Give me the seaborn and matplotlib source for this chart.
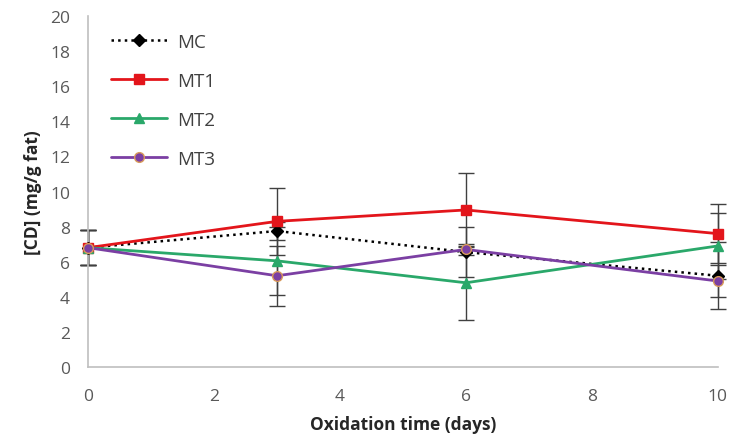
import matplotlib
matplotlib.use("Agg")
import matplotlib.pyplot as plt
import seaborn as sns
import pandas as pd
import numpy as np

days = [0, 3, 6, 10]
series_names = ["MC", "MT1", "MT2", "MT3"]
mc = [6.8, 7.75, 6.55, 5.2]
mt1 = [6.8, 8.3, 8.95, 7.6]
mt2 = [6.8, 6.05, 4.8, 6.9]
mt3 = [6.8, 5.2, 6.7, 4.9]
mc_err = [1.0, 0.5, 1.4, 1.9]
mt1_err = [1.0, 1.9, 2.1, 1.7]
mt2_err = [1.0, 1.95, 2.1, 1.9]
mt3_err = [1.0, 1.7, 0.3, 0.9]
y_ticks = [0, 2, 4, 6, 8, 10, 12, 14, 16, 18, 20]
x_ticks = [0, 2, 4, 6, 8, 10]

values = {"MC": mc, "MT1": mt1, "MT2": mt2, "MT3": mt3}
errors = {"MC": mc_err, "MT1": mt1_err, "MT2": mt2_err, "MT3": mt3_err}

rows = []
for name in series_names:
    for d, v, e in zip(days, values[name], errors[name]):
        rows.append({"day": d, "value": v, "err": e, "series": name})
df = pd.DataFrame(rows)

sns.set_theme(style="white")
plt.rcParams["font.family"] = ["Open Sans", "DejaVu Sans"]

fig = plt.figure(figsize=(7.29, 4.39), dpi=100)
ax = fig.add_axes([0.1207, 0.1617, 0.864, 0.7995])

styles = {
    "MC": dict(color="black", ls=":", marker="D", mfc="black", mec="black", ms=6.5, lw=1.8),
    "MT1": dict(color="#E3151B", ls="-", marker="s", mfc="#E3151B", mec="#E3151B", ms=7.5, lw=2.0),
    "MT2": dict(color="#2AA86A", ls="-", marker="^", mfc="#2AA86A", mec="#2AA86A", ms=7.5, lw=2.0),
    "MT3": dict(color="#7B3FA3", ls="-", marker="o", mfc="#7B3FA3", mec="#D89A5A", ms=7, lw=2.0),
}

for name in series_names:
    sub = df[df.series == name]
    ax.errorbar(sub["day"], sub["value"], yerr=sub["err"], fmt="none",
                ecolor="#404040", elinewidth=1.0, capsize=6, capthick=1.0,
                zorder=1, clip_on=False)

for name in series_names:
    sub = df[df.series == name]
    st = styles[name]
    sns.lineplot(data=sub, x="day", y="value", ax=ax, color=st["color"],
                 linestyle=st["ls"], linewidth=st["lw"], marker=st["marker"],
                 markersize=st["ms"], markerfacecolor=st["mfc"],
                 markeredgecolor=st["mec"], markeredgewidth=1.0,
                 label=name, zorder=3, errorbar=None, clip_on=False)

ax.set_xlim(0, 10)
ax.set_ylim(0, 20)
ax.set_xticks(x_ticks)
ax.set_xticks(range(0, 11), minor=True)
ax.set_yticks(y_ticks)
ax.tick_params(axis="both", which="both", direction="out", colors="#BFBFBF",
               labelcolor="#595959", labelsize=12.5)
ax.tick_params(axis="both", which="major", length=5, width=1)
ax.tick_params(axis="x", which="minor", length=5, width=1)
ax.tick_params(axis="x", pad=10)
ax.tick_params(axis="y", pad=8)
for s in ["top", "right"]:
    ax.spines[s].set_visible(False)
for s in ["left", "bottom"]:
    ax.spines[s].set_color("#BFBFBF")
    ax.spines[s].set_linewidth(1.2)

ax.set_xlabel("Oxidation time (days)", fontsize=12.5, fontweight="bold",
              color="#262626", labelpad=8)
ax.set_ylabel("[CD] (mg/g fat)", fontsize=12.5, fontweight="bold",
              color="#262626", labelpad=6)

leg = ax.legend(loc="upper left", bbox_to_anchor=(0.01, 1.0), frameon=False,
                fontsize=13.5, labelspacing=1.12, handlelength=3.0, handletextpad=0.5,
                labelcolor="#404040")

fig.savefig("out.png", dpi=100)
